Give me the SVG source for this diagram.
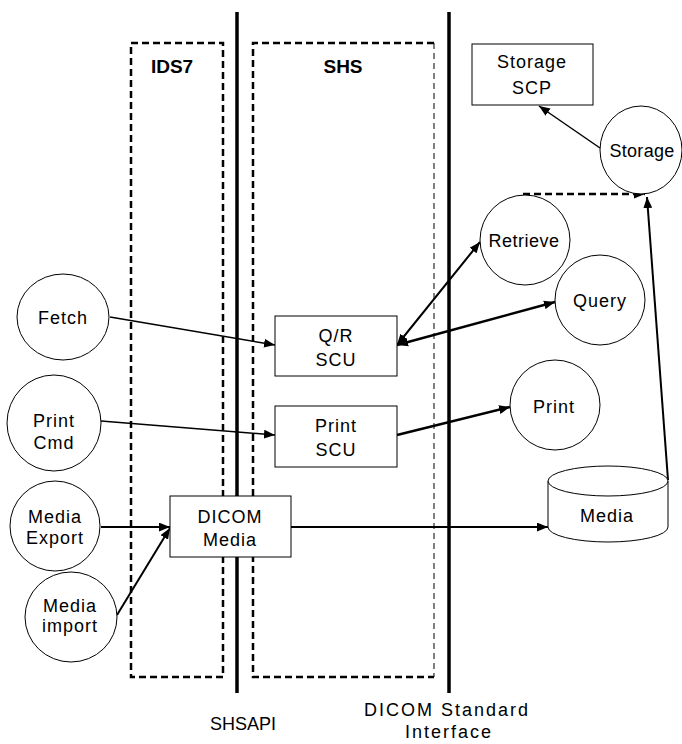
<svg xmlns="http://www.w3.org/2000/svg" width="682" height="744" viewBox="0 0 682 744">
<style>
text{font-family:"Liberation Sans",Arial,sans-serif;font-size:18px;fill:#000;text-anchor:middle;letter-spacing:1px}
.b{font-weight:bold;font-size:19px;letter-spacing:0}
.n{fill:#fff;stroke:#000;stroke-width:1}
.bar{stroke:#000;stroke-width:3.5;fill:none}
.dash{stroke:#000;stroke-width:2.5;fill:none;stroke-dasharray:7 4}
.thin{stroke:#000;stroke-width:1;fill:none;stroke-dasharray:6 4}
.c{stroke:#000;fill:none}
</style>
<defs>
<marker id="ah" viewBox="0 0 10 8" refX="10" refY="4" markerWidth="11" markerHeight="9" markerUnits="userSpaceOnUse" orient="auto-start-reverse">
<path d="M0,0 L10,4 L0,8 Z" fill="#000"/>
</marker>
</defs>
<rect width="682" height="744" fill="#fff"/>
<g id="ids7-zone">
<rect class="dash" x="131" y="43" width="92" height="634"/>
<text class="b" x="172" y="73">IDS7</text>
</g>
<g id="shs-zone">
<path class="dash" d="M434,43 H253 V677 H434"/>
<path class="thin" d="M434,43 V677"/>
<text class="b" x="343" y="73">SHS</text>
</g>
<g id="shs-api">
<line class="bar" x1="237" y1="12" x2="237" y2="693"/>
<text x="243" y="730" style="letter-spacing:0">SHSAPI</text>
</g>
<g id="dicom-interface">
<line class="bar" x1="449" y1="12" x2="449" y2="693"/>
<text x="447" y="716" style="letter-spacing:2px">DICOM Standard</text>
<text x="449" y="738" style="letter-spacing:2px">Interface</text>
</g>
<g id="connectors">
<line class="c" stroke-width="1.5" x1="110" y1="317" x2="275" y2="345" marker-end="url(#ah)"/>
<line class="c" stroke-width="1.5" x1="101" y1="421" x2="275" y2="435" marker-end="url(#ah)"/>
<line class="c" stroke-width="2" x1="397" y1="345" x2="480" y2="242" marker-start="url(#ah)" marker-end="url(#ah)"/>
<line class="c" stroke-width="2.5" x1="397" y1="345" x2="555" y2="302" marker-start="url(#ah)" marker-end="url(#ah)"/>
<line class="c" stroke-width="2.5" x1="397" y1="435" x2="510" y2="407" marker-end="url(#ah)"/>
<line class="c" stroke-width="2" x1="101" y1="527" x2="170" y2="527" marker-end="url(#ah)"/>
<line class="c" stroke-width="2" x1="117" y1="615" x2="170" y2="528" marker-end="url(#ah)"/>
<line class="c" stroke-width="2" x1="291" y1="527" x2="548" y2="527" marker-end="url(#ah)"/>
<line class="c" stroke-width="1.5" x1="600" y1="148" x2="539" y2="106" marker-end="url(#ah)"/>
<line class="c" stroke-width="2.5" stroke-dasharray="7 4" x1="523" y1="194" x2="645" y2="194" marker-end="url(#ah)"/>
<line class="c" stroke-width="2" x1="668" y1="480" x2="647" y2="197" marker-end="url(#ah)"/>
</g>
<g id="storage-scp">
<rect class="n" x="472" y="44" width="121" height="61"/>
<text x="532" y="68">Storage</text>
<text x="532" y="94">SCP</text>
</g>
<g id="storage">
<ellipse class="n" cx="641" cy="150" rx="41" ry="44"/>
<text x="642" y="157" style="letter-spacing:0.3px">Storage</text>
</g>
<g id="retrieve">
<ellipse class="n" cx="525" cy="240" rx="45" ry="45"/>
<text x="524" y="247" style="letter-spacing:0.5px">Retrieve</text>
</g>
<g id="query">
<ellipse class="n" cx="600" cy="300" rx="45" ry="45"/>
<text x="600" y="307">Query</text>
</g>
<g id="fetch">
<ellipse class="n" cx="63" cy="317" rx="46" ry="43"/>
<text x="63" y="324">Fetch</text>
</g>
<g id="qr-scu">
<rect class="n" x="275" y="316" width="122" height="60"/>
<text x="336" y="342">Q/R</text>
<text x="336" y="366">SCU</text>
</g>
<g id="print-cmd">
<ellipse class="n" cx="54" cy="423" rx="47" ry="48"/>
<text x="54" y="427">Print</text>
<text x="54" y="449">Cmd</text>
</g>
<g id="print-scu">
<rect class="n" x="275" y="406" width="122" height="61"/>
<text x="336" y="432">Print</text>
<text x="336" y="456">SCU</text>
</g>
<g id="print">
<ellipse class="n" cx="555" cy="405" rx="45" ry="45"/>
<text x="554" y="413">Print</text>
</g>
<g id="media-export">
<ellipse class="n" cx="55" cy="526" rx="45" ry="45"/>
<text x="55" y="523">Media</text>
<text x="55" y="544">Export</text>
</g>
<g id="media-import">
<ellipse class="n" cx="71" cy="617" rx="46" ry="45"/>
<text x="70" y="612">Media</text>
<text x="70" y="632">import</text>
</g>
<g id="dicom-media">
<rect class="n" x="170" y="496" width="121" height="61"/>
<text x="230" y="523">DICOM</text>
<text x="230" y="546">Media</text>
</g>
<g id="media">
<path class="n" d="M548,481 V527 A60,15 0 0 0 668,527 V481 A60,15 0 0 0 548,481 Z"/>
<path class="n" d="M548,481 A60,15 0 0 0 668,481" fill="none"/>
<text x="607" y="522">Media</text>
</g>
</svg>
